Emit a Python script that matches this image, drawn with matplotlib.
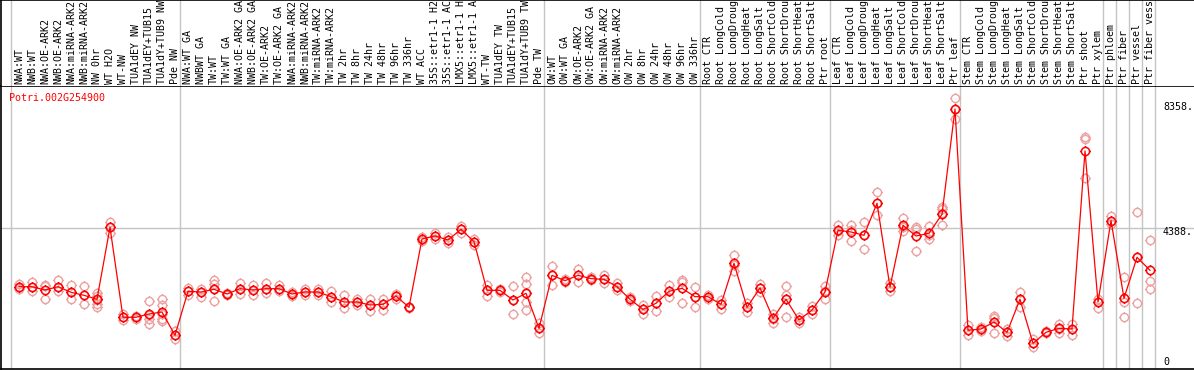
import matplotlib
matplotlib.use("Agg")
import matplotlib.pyplot as plt
import matplotlib.path as mpath
import numpy as np

title = "Potri.002G254900"

labels = [
    "NWA:WT", "NWB:WT", "NWA:OE-ARK2", "NWB:OE-ARK2", "NWA:miRNA-ARK2", "NWB:miRNA-ARK2",
    "NW 0hr", "WT H2O", "WT-NW", "TUA1dEY NW", "TUA1dEY+TUB15", "TUA1dY+TUB9 NW", "Pde NW",
    "NWA:WT GA", "NWBWT GA", "TW:WT", "TW:WT GA", "NWA:OE-ARK2 GA", "NWB:OE-ARK2 GA",
    "TW:OE-ARK2", "TW:OE-ARK2 GA", "NWA:miRNA-ARK2", "NWB:miRNA-ARK2", "TW:miRNA-ARK2",
    "TW:miRNA-ARK2", "TW 2hr", "TW 8hr", "TW 24hr", "TW 48hr", "TW 96hr", "TW 336hr",
    "WT ACC", "35S::etr1-1 H2", "35S::etr1-1 AC", "LMX5::etr1-1 H", "LMX5::etr1-1 A",
    "WT-TW", "TUA1dEY TW", "TUA1dEY+TUB15", "TUA1dY+TUB9 TW", "Pde TW",
    "OW:WT", "OW:WT GA", "OW:OE-ARK2", "OW:OE-ARK2 GA", "OW:miRNA-ARK2", "OW:miRNA-ARK2",
    "OW 2hr", "OW 8hr", "OW 24hr", "OW 48hr", "OW 96hr", "OW 336hr",
    "Root CTR", "Root LongCold", "Root LongDroug", "Root LongHeat", "Root LongSalt",
    "Root ShortCold", "Root ShortDrou", "Root ShortHeat", "Root ShortSalt", "Ptr root",
    "Leaf CTR", "Leaf LongCold", "Leaf LongDroug", "Leaf LongHeat", "Leaf LongSalt",
    "Leaf ShortCold", "Leaf ShortDrou", "Leaf ShortHeat", "Leaf ShortSalt", "Ptr leaf",
    "Stem CTR", "Stem LongCold", "Stem LongDroug", "Stem LongHeat", "Stem LongSalt",
    "Stem ShortCold", "Stem ShortDrou", "Stem ShortHeat", "Stem ShortSalt", "Ptr shoot",
    "Ptr xylem", "Ptr phloem", "Ptr fiber", "Ptr vessel", "Ptr fiber vess",
]

# index of first sample in each group (last entry = end)
group_starts = [0, 13, 41, 53, 63, 73, 84, 85, 86, 87, 88]

means = [
    2429, 2429, 2319, 2429, 2242, 2142, 2009, 4411, 1408, 1408, 1518, 1585, 807,
    2275, 2252, 2342, 2186, 2363, 2319, 2363, 2363, 2186, 2252, 2252, 2096, 1919, 1919,
    1819, 1842, 2119, 1741, 4021, 4121, 3988, 4344, 3932, 2308, 2308, 1985, 2208, 1040,
    2808, 2631, 2808, 2698, 2675, 2429, 2009, 1675, 1875, 2275, 2375, 2096,
    2096, 1842, 3209, 1741, 2386, 1374, 2009, 1318, 1652, 2252,
    4311, 4255, 4144, 5212, 2419, 4478, 4121, 4211, 4845, 8358,
    974, 1018, 1251, 907, 2009, 540, 907, 1040, 1018, 6958, 1919,
    4633, 2042, 3410, 2976,
]

replicates = [
    [2521, 2432, 2343], [2588, 2432, 2276], [2499, 2455, 2010], [2655, 2432, 2276],
    [2477, 2254, 2010], [2455, 2143, 1854], [2232, 2121, 1987, 1854, 1743],
    [4590, 4412, 4234], [1520, 1409, 1320], [1454, 1409, 1365], [1965, 1476, 1365, 1187],
    [2032, 1810, 1520, 1365, 1276], [965, 809, 698],
    [2388, 2276, 2143], [2365, 2254, 2099], [2655, 2521, 2343, 1943], [2210, 2188, 2165],
    [2543, 2365, 2188], [2477, 2321, 2143], [2543, 2365, 2232], [2477, 2365, 2276],
    [2254, 2188, 2121], [2365, 2254, 2143], [2365, 2254, 2143], [2299, 2099, 1921],
    [2143, 1921, 1721], [2010, 1921, 1832], [2010, 1820, 1632], [2032, 1843, 1654],
    [2188, 2121, 2032], [1765, 1743, 1721], [4100, 4022, 3945], [4211, 4123, 4034],
    [4078, 3989, 3900], [4456, 4345, 4234], [4034, 3933, 3833], [2499, 2310, 2121],
    [2365, 2310, 2254], [2455, 1987, 1520], [2744, 2521, 2210, 1921, 1654], [1209, 1042, 875],
    [3122, 2811, 2499], [2677, 2632, 2588], [3033, 2811, 2588], [2744, 2699, 2655],
    [2811, 2677, 2543], [2543, 2432, 2321], [2077, 2010, 1943], [1832, 1676, 1520],
    [2121, 1876, 1632], [2477, 2276, 2077], [2655, 2599, 1876], [2432, 2099, 1765],
    [2165, 2099, 2032], [1987, 1843, 1698], [3500, 3166, 2966], [1898, 1743, 1587],
    [2521, 2388, 2254], [1520, 1365, 1231], [2455, 2165, 2010, 1431], [1431, 1320, 1209],
    [1787, 1654, 1520], [2455, 2276, 2032],
    [4478, 4300, 4145], [4501, 4323, 3945], [4590, 4167, 3678], [5590, 5212, 4834],
    [2566, 2410, 2276], [4723, 4434, 4278], [4412, 4345, 3611], [4456, 4145, 4034],
    [5101, 5012, 4901, 4501], [8726, 8348, 8014],
    [1142, 987, 809], [1076, 1020, 965], [1454, 1387, 1254, 898], [1009, 920, 787],
    [2254, 2010, 1765], [675, 542, 408], [942, 909, 876], [1187, 1031, 898],
    [1187, 1031, 809], [7414, 7369, 6057], [2032, 1921, 1721],
    [4790, 4634, 4523], [2744, 1921, 1431], [4923, 3411, 1876], [3989, 2610, 2366],
]

ytick_values = [8358, 4388, 0]
ytick_labels = ["8358.", "4388.", "0"]
ref_line_value = 4388

# ---------------------------------------------------------------------------
W, H = 1194, 370
DPI = 100
fig = plt.figure(figsize=(W / DPI, H / DPI), dpi=DPI)
fig.patch.set_facecolor("white")

MONO = "DejaVu Sans Mono"
FS = 7.2
GRID = "#c4c4c4"
RED = "#ff0000"
PINK = "#eda0a0"

def frac(px0, py0, px1, py1):
    # pixel box (top-left origin) -> figure fraction rect
    return [px0 / W, 1 - py1 / H, (px1 - px0) / W, (py1 - py0) / H]

AX_L, AX_R = 1, 1194
HDR_B = 86
PLOT_B = 369

n = len(means)
px_per_unit = 13.0
xmin = -(19 - AX_L) / px_per_unit
xmax = xmin + (AX_R - AX_L) / px_per_unit

ax = fig.add_axes(frac(AX_L, HDR_B, AX_R, PLOT_B))
hdr = fig.add_axes(frac(AX_L, 0, AX_R, HDR_B), sharex=ax)

# y scale: value 0 at pixel 359.5, 0.02997 px per unit
ppu = 0.02997
ax.set_ylim(-(PLOT_B - 359.5) / ppu, (359.5 - HDR_B) / ppu)
ax.set_xlim(xmin, xmax)
hdr.set_ylim(0, HDR_B)

for a in (ax, hdr):
    a.set_xticks([])
    a.set_yticks([])
    for s in a.spines.values():
        s.set_visible(False)
    a.set_facecolor("white")

ax.spines["left"].set_visible(True)
ax.spines["bottom"].set_visible(True)
ax.spines["top"].set_visible(True)
hdr.spines["left"].set_visible(True)
hdr.spines["top"].set_visible(True)
for a in (ax, hdr):
    for s in a.spines.values():
        s.set_color("black")
        s.set_linewidth(1.2)

# separators
for g in group_starts:
    xs = g - 0.62
    ax.axvline(xs, color=GRID, lw=1.0, zorder=0)
    hdr.axvline(xs, color=GRID, lw=1.0, zorder=0)

ax.axhline(ref_line_value, color=GRID, lw=1.0, zorder=0)

# custom marker: circle with four short outer ticks
circ = mpath.Path.unit_circle()
t = 1.3
ticks = [
    mpath.Path([(0, 1), (0, t)], [mpath.Path.MOVETO, mpath.Path.LINETO]),
    mpath.Path([(0, -1), (0, -t)], [mpath.Path.MOVETO, mpath.Path.LINETO]),
    mpath.Path([(1, 0), (t, 0)], [mpath.Path.MOVETO, mpath.Path.LINETO]),
    mpath.Path([(-1, 0), (-t, 0)], [mpath.Path.MOVETO, mpath.Path.LINETO]),
]
mk = mpath.Path.make_compound_path(circ, *ticks)
MS = 10.6 * 72 / DPI

x = np.arange(n)
for i, reps in enumerate(replicates):
    ax.plot([i] * len(reps), reps, linestyle="none", marker=mk, markersize=MS,
            markerfacecolor="none", markeredgecolor=PINK, markeredgewidth=1.0,
            zorder=2)

ax.plot(x, means, color=RED, lw=0.9, zorder=3)
ax.plot(x, means, linestyle="none", marker=mk, markersize=MS,
        markerfacecolor="none", markeredgecolor=RED, markeredgewidth=1.1, zorder=4)

# header labels
for i, lab in enumerate(labels):
    hdr.text(i, HDR_B - 84, lab, rotation=90, ha="center", va="bottom",
             fontsize=FS, family=MONO, color="black", clip_on=True)

# title
ax.text((9 - AX_L) / (AX_R - AX_L), (PLOT_B - 98) / (PLOT_B - HDR_B), title,
        transform=ax.transAxes, ha="left", va="center", fontsize=FS,
        family=MONO, color=RED)

# y labels on right
offsets = {8358: 2, 4388: -4, 0: -2.5}
for v, s in zip(ytick_values, ytick_labels):
    ax.annotate(s, xy=((1163 - AX_L) / (AX_R - AX_L), v),
                xycoords=("axes fraction", "data"),
                xytext=(0, offsets[v] * 72 / DPI), textcoords="offset points",
                ha="left", va="center", fontsize=FS, family=MONO, color="black")

fig.savefig("out.png", dpi=DPI, facecolor="white")
